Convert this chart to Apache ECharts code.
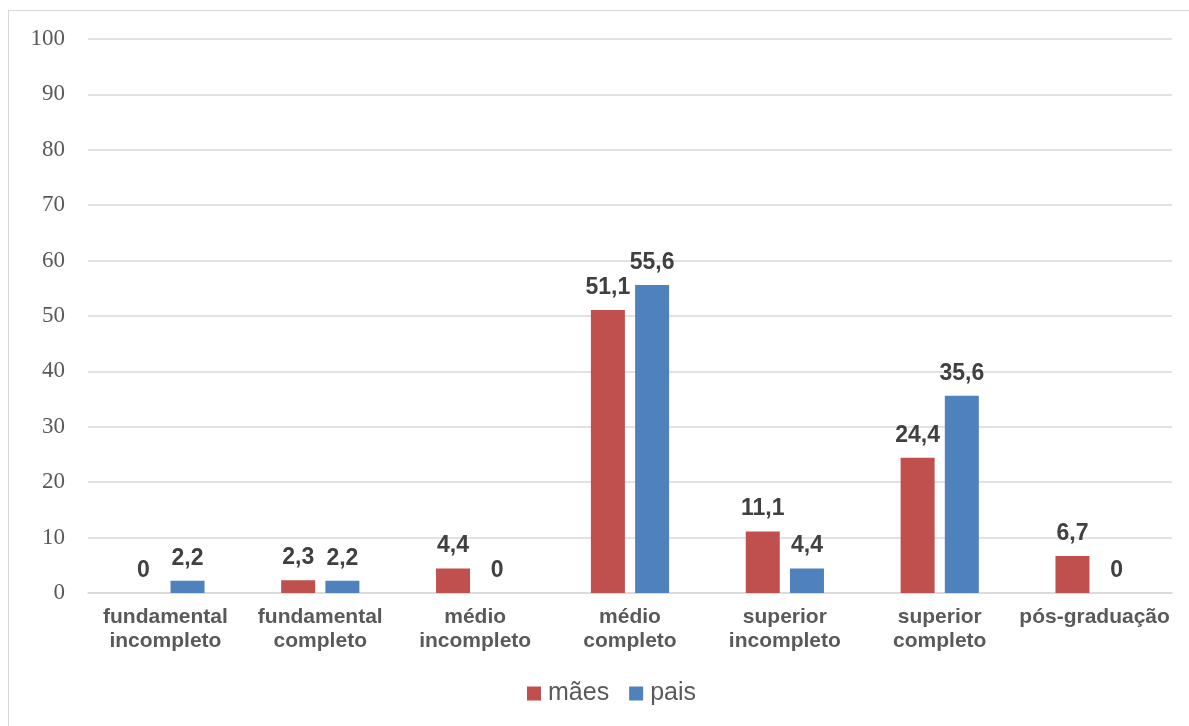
<!DOCTYPE html>
<html><head><meta charset="utf-8">
<script src="https://cdn.jsdelivr.net/npm/echarts@6/dist/echarts.min.js"></script>
<style>html,body{margin:0;padding:0;background:#fff}#c{width:1189px;height:726px}
#frame{position:absolute;left:8px;top:10px;width:1200px;height:740px;border:1px solid #d9d9d9;pointer-events:none}</style>
</head><body><div id="c"></div><div id="frame"></div>
<script>
const categories = ['fundamental\nincompleto','fundamental\ncompleto','médio\nincompleto','médio\ncompleto','superior\nincompleto','superior\ncompleto','pós-graduação'];
const maes = [0, 2.3, 4.4, 51.1, 11.1, 24.4, 6.7];
const pais = [2.2, 2.2, 0, 55.6, 4.4, 35.6, 0];
const yTicks = {min: 0, max: 100, interval: 10};

const chart = echarts.init(document.getElementById('c'));
const lbl = {show: true, position: 'top', distance: 11, fontFamily: 'Liberation Sans, Arial', fontWeight: 'bold', fontSize: 23, color: '#404040',
  formatter: p => String(p.value).replace('.', ',')};
chart.setOption({
  animation: false,
  grid: {left: 88, right: 17, top: 39, bottom: 133},
  legend: {bottom: 15, left: 522, itemWidth: 14, itemHeight: 14, itemGap: 20,
    icon: 'rect', textStyle: {fontFamily: 'Liberation Sans, Arial', fontSize: 25, color: '#595959', padding: [0, 0, 0, 2]},
    data: ['mães', 'pais']},
  xAxis: {type: 'category', data: categories,
    axisLine: {lineStyle: {color: '#d9d9d9', width: 1.5}}, axisTick: {show: false},
    axisLabel: {interval: 0, margin: 12, fontFamily: 'Liberation Sans, Arial', fontWeight: 'bold', fontSize: 21, color: '#595959', lineHeight: 24}},
  yAxis: {type: 'value', min: yTicks.min, max: yTicks.max, interval: yTicks.interval,
    axisLine: {show: false}, axisTick: {show: false},
    splitLine: {lineStyle: {color: '#d9d9d9', width: 1.5}},
    axisLabel: {margin: 23, fontFamily: 'Liberation Serif, DejaVu Serif, serif', fontSize: 23, color: '#595959'}},
  series: [
    {name: 'mães', type: 'bar', data: maes, barWidth: 34, barGap: '30%', itemStyle: {color: '#c0504d'}, label: lbl},
    {name: 'pais', type: 'bar', data: pais, barWidth: 34, itemStyle: {color: '#4f81bd'}, label: lbl}
  ]
});
</script></body></html>
